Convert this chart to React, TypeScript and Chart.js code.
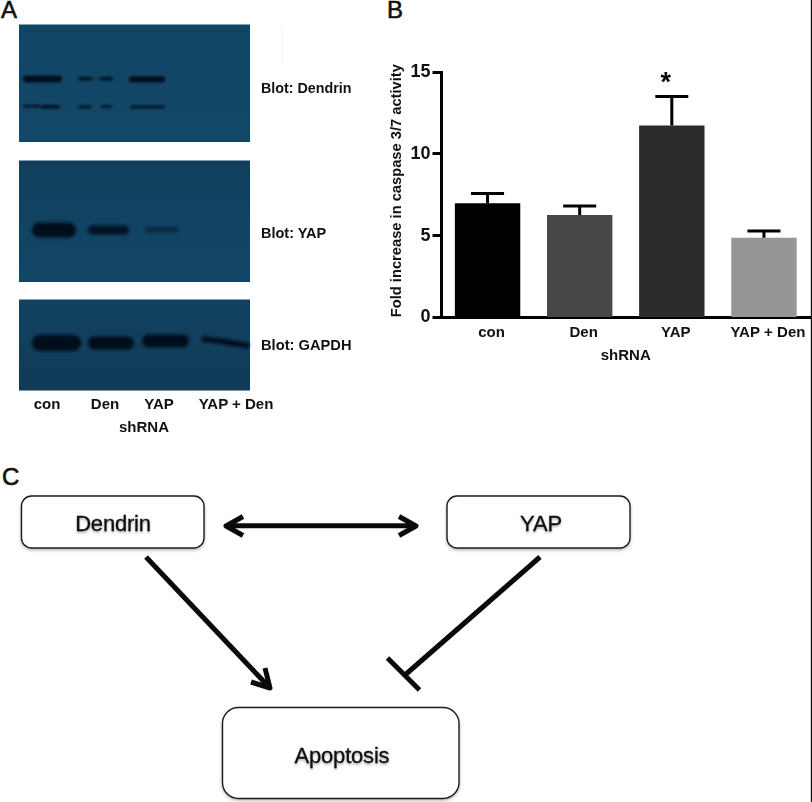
import React, { useEffect, useRef } from "react";
import { Chart, registerables } from "chart.js";

Chart.register(...registerables);

const categories = ["con", "Den", "YAP", "YAP + Den"];
const meanFold = [6.98, 6.27, 11.73, 4.88];
const errorTop = [7.57, 6.82, 13.5, 5.28];
const barColors = ["#000000", "#474747", "#2c2c2c", "#969696"];
const significance = ["", "", "*", ""];
const yAxisTitle = "\u00a0\u00a0Fold increase in caspase 3/7 activity";
const xAxisTitle = "shRNA";

const SANS = '"Liberation Sans", Arial, sans-serif';
const errorBarPlugin = {
  id: "errorBars",
  afterDatasetsDraw(chart: any) {
    const { ctx, scales } = chart;
    const x = scales.x;
    const y = scales.y;
    ctx.save();
    ctx.strokeStyle = "#000";
    ctx.lineWidth = 3;
    categories.forEach((_, i) => {
      const cx = x.getPixelForValue(i);
      const top = y.getPixelForValue(errorTop[i]);
      const base = y.getPixelForValue(meanFold[i]);
      ctx.beginPath();
      ctx.moveTo(cx, base);
      ctx.lineTo(cx, top);
      ctx.moveTo(cx - 16.5, top);
      ctx.lineTo(cx + 16.5, top);
      ctx.stroke();
      if (significance[i]) {
        ctx.fillStyle = "#000";
        ctx.font = `bold 27px ${SANS}`;
        ctx.textAlign = "center";
        ctx.textBaseline = "middle";
        ctx.fillText(significance[i], cx - 6, top - 13);
      }
    });
    ctx.restore();
  },
};

function Label({ x, y, children, anchor = "middle", size = 15, weight = "bold", stroke = 0 }: any) {
  return (
    <text x={x} y={y} textAnchor={anchor} dominantBaseline="central" fontFamily={SANS} fontSize={size} fontWeight={weight} fill="#111" stroke="#111" strokeWidth={stroke}>
      {children}
    </text>
  );
}

function Box({ x, y, w, h, r, text, tx, ty }: any) {
  return (
    <g>
      <rect x={x} y={y} width={w} height={h} rx={r} fill="#fff" stroke="#1c1c1c" strokeWidth={1.4} filter="url(#shadow)" />
      <text x={tx} y={ty} textAnchor="middle" dominantBaseline="central" fontFamily={SANS} fontSize={22} letterSpacing={-0.2} fill="#111" stroke="#111" strokeWidth={0.3} filter="url(#textShadow)">
        {text}
      </text>
    </g>
  );
}

function Band({ x, y, w, h, o = 1 }: any) {
  return <rect x={x} y={y - h / 2} width={w} height={h} rx={h / 2} fill="#03101c" opacity={o} />;
}

export default function App() {
  const ref = useRef<HTMLCanvasElement>(null);
  useEffect(() => {
    const chart = new Chart(ref.current!, {
      type: "bar",
      data: {
        labels: categories,
        datasets: [
          {
            data: meanFold,
            backgroundColor: barColors,
            borderWidth: 0,
            barPercentage: 0.71,
            categoryPercentage: 1,
          },
        ],
      },
      plugins: [errorBarPlugin],
      options: {
        animation: false,
        responsive: false,
        devicePixelRatio: 1,
        layout: { padding: { top: 72, right: 2, left: 0, bottom: 0 } },
        plugins: { legend: { display: false }, tooltip: { enabled: false }, title: { display: false } },
        scales: {
          x: {
            type: "category",
            offset: true,
            afterFit: (s: any) => {
              s.height = 52.5;
            },
            grid: { display: false, drawTicks: false },
            border: { display: true, color: "#000", width: 3 },
            ticks: {
              color: "#111",
              font: { family: SANS, size: 15, weight: "bold" },
              padding: 6,
              labelOffset: 4,
              maxRotation: 0,
              autoSkip: false,
            },
            title: {
              display: true,
              text: xAxisTitle,
              color: "#111",
              font: { family: SANS, size: 15, weight: "bold" },
              padding: { top: 0, bottom: 5 },
            },
          },
          y: {
            min: 0,
            max: 15,
            afterFit: (s: any) => {
              s.width = 56.5;
            },
            grid: {
              display: true,
              drawOnChartArea: false,
              drawTicks: true,
              tickLength: 9,
              tickWidth: 3,
              tickColor: "#000",
            },
            border: { display: true, color: "#000", width: 3 },
            ticks: {
              stepSize: 5,
              color: "#111",
              font: { family: SANS, size: 18, weight: "bold" },
              padding: 2,
            },
            title: {
              display: true,
              text: yAxisTitle,
              color: "#111",
              font: { family: SANS, size: 14.7, weight: "bold" },
              padding: { top: 3, bottom: 0 },
            },
          },
        },
      },
    } as any);
    return () => chart.destroy();
  }, []);

  return (
    <div style={{ position: "absolute", left: 0, top: 0, width: 812, height: 802, background: "#fff", overflow: "hidden" }}>
      <svg width={812} height={802} style={{ position: "absolute", left: 0, top: 0 }}>
        <defs>
          <filter id="b1" x="-30%" y="-150%" width="160%" height="400%">
            <feGaussianBlur stdDeviation="1" />
          </filter>
          <filter id="b2" x="-30%" y="-100%" width="160%" height="300%">
            <feGaussianBlur stdDeviation="1.8" />
          </filter>
          <filter id="shadow" x="-5%" y="-10%" width="110%" height="125%">
            <feDropShadow dx="0" dy="1.5" stdDeviation="1.5" floodColor="#000" floodOpacity="0.3" />
          </filter>
          <filter id="textShadow" x="-10%" y="-20%" width="120%" height="150%">
            <feDropShadow dx="0" dy="1.5" stdDeviation="1" floodColor="#000" floodOpacity="0.35" />
          </filter>
          <linearGradient id="g1" x1="0" y1="0" x2="0" y2="1">
            <stop offset="0" stopColor="#114565" />
            <stop offset="1" stopColor="#124768" />
          </linearGradient>
          <linearGradient id="g2" x1="0" y1="0" x2="0" y2="1">
            <stop offset="0" stopColor="#103f5d" />
            <stop offset="1" stopColor="#124667" />
          </linearGradient>
          <linearGradient id="g3" x1="0" y1="0" x2="0" y2="1">
            <stop offset="0" stopColor="#114261" />
            <stop offset="1" stopColor="#113b57" />
          </linearGradient>
        </defs>

        {/* Panel letters */}
        <Label x={1} y={9} anchor="start" size={24} weight="normal" stroke={0.6}>A</Label>
        <Label x={387} y={9} anchor="start" size={24} weight="normal" stroke={0.6}>B</Label>
        <Label x={2} y={476} anchor="start" size={24} weight="normal" stroke={0.6}>C</Label>

        {/* Panel A: blots */}
        <rect x={19} y={24.5} width={231} height={117.5} fill="url(#g1)" />
        <rect x={19} y={160.5} width={231} height={121.5} fill="url(#g2)" />
        <rect x={19} y={299.5} width={231} height={91} fill="url(#g3)" />
        <rect x={281.5} y={26} width={0.8} height={38} fill="#f2f2f2" />

        <g filter="url(#b1)">
          <Band x={23} y={79} w={39} h={6.5} />
          <Band x={78} y={78.7} w={35} h={1.2} o={0.4} />
          <Band x={78} y={78.7} w={14} h={3.5} o={0.9} />
          <Band x={100} y={78.7} w={13} h={3.5} o={0.9} />
          <Band x={129} y={79.3} w={36} h={6} />
          <Band x={23} y={106.3} w={18} h={3} o={0.85} />
          <Band x={41} y={106.8} w={19} h={3.5} o={0.95} />
          <Band x={78} y={106.7} w={14} h={3} o={0.85} />
          <Band x={101} y={106.5} w={11} h={3} o={0.85} />
          <Band x={130} y={107} w={35} h={3} o={0.9} />
        </g>
        <g filter="url(#b2)">
          <Band x={32} y={230} w={44} h={15} />
          <Band x={88} y={230} w={41} h={9} o={0.9} />
          <Band x={145} y={229.5} w={34} h={5} o={0.55} />
          <Band x={32} y={343} w={49} h={16} />
          <Band x={88} y={343} w={46} h={13} />
          <Band x={142} y={341} w={47} h={13} />
          <path d="M202 339 Q225 341 249 346" stroke="#03101c" strokeWidth={5.5} fill="none" />
        </g>

        <Label x={261} y={88} anchor="start" size={14.3}>Blot: Dendrin</Label>
        <Label x={261} y={233} anchor="start" size={14.5}>Blot: YAP</Label>
        <Label x={261} y={345} anchor="start" size={14.7}>Blot: GAPDH</Label>
        <Label x={47} y={403}>con</Label>
        <Label x={105} y={403}>Den</Label>
        <Label x={159} y={403}>YAP</Label>
        <Label x={236} y={403}>YAP + Den</Label>
        <Label x={144} y={426}>shRNA</Label>

        {/* Frame line along the right edge of the figure */}
        <rect x={810.8} y={0} width={1.2} height={802} fill="#111" />

        {/* Panel C: diagram */}
        <Box x={21.5} y={496} w={182.5} h={52} r={10} text="Dendrin" tx={113} ty={523} />
        <Box x={447} y={496} w={183} h={52} r={10} text="YAP" tx={541} ty={523} />
        <Box x={222.5} y={707.5} w={236.5} h={91} r={16} text="Apoptosis" tx={342} ty={755} />
        <g stroke="#0a0a0a" strokeWidth={5} fill="none" strokeLinecap="butt" strokeLinejoin="round">
          <path d="M228 525.7 H414" />
          <path d="M243 516.5 L226 526 L243 535.5" />
          <path d="M399 516.5 L416 526 L399 535.5" />
          <path d="M146 557 L269 687" />
          <path d="M265 668 L270 688 L251 682" />
          <path d="M540 557 L405 675" />
          <path d="M387.5 658 L419.5 690" />
        </g>
      </svg>
      <canvas ref={ref} width={427} height={370} style={{ position: "absolute", left: 385, top: 0, width: 427, height: 370 }} />
    </div>
  );
}
